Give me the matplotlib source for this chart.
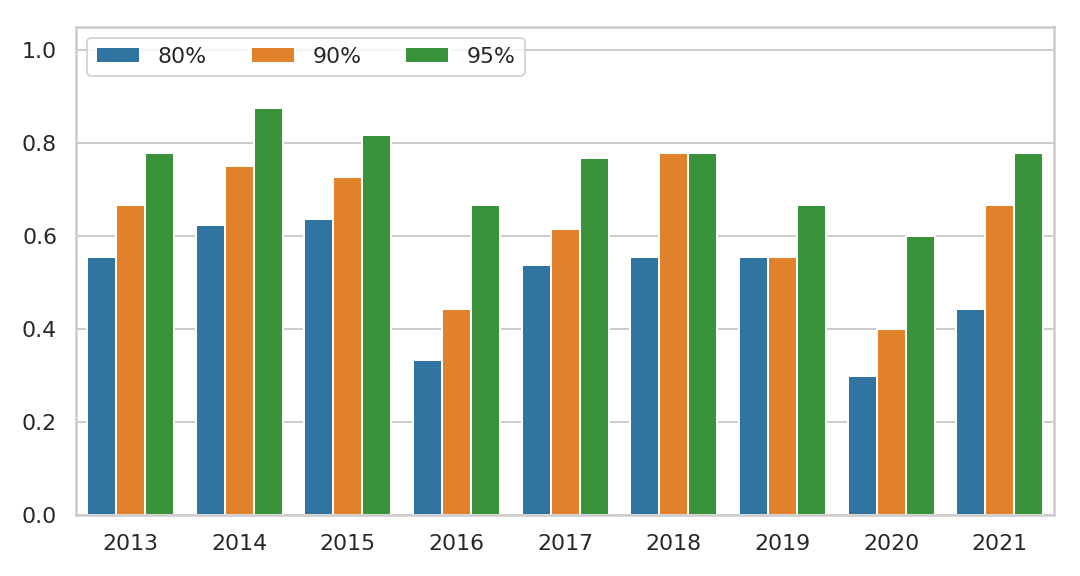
import matplotlib
matplotlib.use("Agg")
import matplotlib.pyplot as plt
import seaborn as sns
import pandas as pd

years = ["2013", "2014", "2015", "2016", "2017", "2018", "2019", "2020", "2021"]
levels = ["80%", "90%", "95%"]
v80 = [0.556, 0.625, 0.636, 0.333, 0.538, 0.556, 0.556, 0.300, 0.444]
v90 = [0.667, 0.750, 0.727, 0.444, 0.615, 0.778, 0.556, 0.400, 0.667]
v95 = [0.778, 0.875, 0.818, 0.667, 0.769, 0.778, 0.667, 0.600, 0.778]

rows = []
for lvl, vals in zip(levels, [v80, v90, v95]):
    for y, v in zip(years, vals):
        rows.append({"year": y, "level": lvl, "value": v})
df = pd.DataFrame(rows)

sns.set_theme(style="whitegrid")
fig, ax = plt.subplots(figsize=(7.5, 4), dpi=144)
sns.barplot(data=df, x="year", y="value", hue="level", hue_order=levels,
            palette=["#1f77b4", "#ff7f0e", "#2ca02c"], saturation=0.75, ax=ax)
ax.set_ylim(0, 1.05)
ax.set_xlabel("")
ax.set_ylabel("")
ax.legend(loc="upper left", ncol=3, title=None)
fig.subplots_adjust(left=0.0704, right=0.976, top=0.953, bottom=0.106)
fig.savefig("out.png", dpi=144)
